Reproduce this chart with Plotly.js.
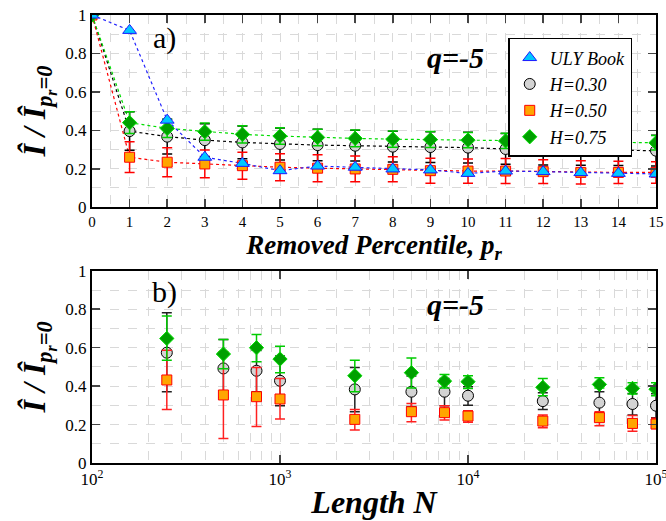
<!DOCTYPE html>
<html><head><meta charset="utf-8">
<script src="https://cdn.plot.ly/plotly-3.0.1.min.js"></script>
<style>body{margin:0;padding:0;background:#fff}#chart{width:666px;height:521px}
#chart text{font-family:'Liberation Serif','Times New Roman',serif !important;}</style>
</head><body>
<div id="chart"></div>
<script>
// ---- Panel a) : removed percentile ----
const pr = [0,1,2,3,4,5,6,7,8,9,10,11,12,13,14,15];
const ulyTop = [1.0,0.92,0.453,0.26,0.228,0.19,0.214,0.208,0.199,0.194,0.176,0.188,0.185,0.18,0.176,0.173];
const h30Top = [1.0,0.396,0.367,0.349,0.337,0.329,0.323,0.32,0.315,0.313,0.31,0.303,0.30,0.298,0.297,0.294];
const h30TopErr = [0,0.10,0.09,0.085,0.085,0.083,0.082,0.08,0.08,0.08,0.08,0.08,0.08,0.08,0.08,0.08];
const h50Top = [1.0,0.26,0.234,0.225,0.216,0.208,0.203,0.199,0.197,0.19,0.188,0.188,0.185,0.181,0.181,0.181];
const h50TopErr = [0,0.08,0.075,0.072,0.07,0.07,0.07,0.067,0.065,0.065,0.063,0.065,0.062,0.06,0.058,0.056];
const h75Top = [1.0,0.44,0.41,0.393,0.379,0.37,0.363,0.358,0.354,0.352,0.349,0.345,0.344,0.34,0.337,0.335];
const h75TopErr = [0,0.056,0.047,0.045,0.045,0.043,0.043,0.043,0.042,0.042,0.040,0.040,0.038,0.038,0.038,0.038];

// ---- Panel b) : length N ----
const lengthN = [250,500,750,1000,2500,5000,7500,10000,25000,50000,75000,100000];
const h30N   = [0.574,0.492,0.48,0.428,0.383,0.371,0.371,0.35,0.322,0.314,0.307,0.298];
const h30NHi = [0.782,0.643,0.587,0.557,0.497,0.453,0.44,0.397,0.365,0.371,0.362,0.36];
const h30NLo = [0.371,0.341,0.371,0.298,0.267,0.294,0.298,0.301,0.279,0.259,0.25,0.235];
const h50N   = [0.432,0.354,0.345,0.333,0.227,0.267,0.262,0.244,0.218,0.236,0.206,0.203];
const h50NHi = [0.587,0.579,0.497,0.44,0.279,0.31,0.298,0.272,0.25,0.267,0.247,0.233];
const h50NLo = [0.279,0.128,0.19,0.229,0.172,0.215,0.224,0.212,0.183,0.194,0.165,0.18];
const h75N   = [0.648,0.567,0.6,0.541,0.454,0.47,0.426,0.423,0.394,0.409,0.388,0.384];
const h75NHi = [0.765,0.643,0.669,0.608,0.535,0.546,0.461,0.454,0.44,0.443,0.418,0.418];
const h75NLo = [0.535,0.49,0.527,0.47,0.371,0.39,0.39,0.388,0.35,0.39,0.359,0.35];

const seriesNames = ['<i>ULY Book</i>','<i>H=0.30</i>','<i>H=0.50</i>','<i>H=0.75</i>'];
const yTicks = [0,0.2,0.4,0.6,0.8,1];
const yTickText = ['0','0.2','0.4','0.6','0.8','1'];
const xTicksN = [100,1000,10000,100000];
const xTickTextN = ['10<sup>2</sup>','10<sup>3</sup>','10<sup>4</sup>','10<sup>5</sup>'];

const SERIF = 'Liberation Serif';
const mk = {
  uly: {symbol:'triangle-up', size:12, color:'#00c8ff', line:{color:'#1a1aff', width:1}},
  h30: {symbol:'circle', size:11, color:'#d3d3d3', line:{color:'#000', width:1}},
  h50: {symbol:'square', size:10, color:'#ffa500', line:{color:'#ff0000', width:1}},
  h75: {symbol:'diamond', size:11, color:'#00a000', line:{color:'#00e000', width:1}}
};
const errStyle = (c) => ({type:'data', visible:true, color:c, thickness:1.5, width:5});
const diff = (a,b) => a.map((v,i)=>v-b[i]);
const dotLine = (y, c) => ({x:pr, y:y, type:'scatter', mode:'lines', showlegend:false, hoverinfo:'skip',
  line:{color:c, dash:'dot', width:1.2}, xaxis:'x', yaxis:'y'});

const traces = [
  dotLine(h30Top, '#000'), dotLine(h50Top, '#ff0000'), dotLine(h75Top, '#00dd00'), dotLine(ulyTop, '#2222ff'),
  {x:pr, y:h30Top, type:'scatter', mode:'markers', name:seriesNames[1], legendrank:2, marker:mk.h30,
   error_y:Object.assign({array:h30TopErr}, errStyle('#000')), xaxis:'x', yaxis:'y'},
  {x:pr, y:h50Top, type:'scatter', mode:'markers', name:seriesNames[2], legendrank:3, marker:mk.h50,
   error_y:Object.assign({array:h50TopErr}, errStyle('#ff0000')), xaxis:'x', yaxis:'y'},
  {x:pr, y:h75Top, type:'scatter', mode:'markers', name:seriesNames[3], legendrank:4, marker:mk.h75,
   error_y:Object.assign({array:h75TopErr}, errStyle('#00cc00')), xaxis:'x', yaxis:'y'},
  {x:pr, y:ulyTop, type:'scatter', mode:'markers', name:seriesNames[0], legendrank:1, marker:mk.uly, xaxis:'x', yaxis:'y'},

  {x:lengthN, y:h30N, type:'scatter', mode:'markers', showlegend:false, marker:mk.h30,
   error_y:Object.assign({symmetric:false, array:diff(h30NHi,h30N), arrayminus:diff(h30N,h30NLo)}, errStyle('#222')),
   xaxis:'x2', yaxis:'y2'},
  {x:lengthN, y:h50N, type:'scatter', mode:'markers', showlegend:false, marker:mk.h50,
   error_y:Object.assign({symmetric:false, array:diff(h50NHi,h50N), arrayminus:diff(h50N,h50NLo)}, errStyle('#ff2020')),
   xaxis:'x2', yaxis:'y2'},
  {x:lengthN, y:h75N, type:'scatter', mode:'markers', showlegend:false, marker:mk.h75,
   error_y:Object.assign({symmetric:false, array:diff(h75NHi,h75N), arrayminus:diff(h75N,h75NLo)}, errStyle('#00cc00')),
   xaxis:'x2', yaxis:'y2'}
];

const gridCol = '#d9d9d9';
const axBase = {
  showline:true, linecolor:'#000', linewidth:2, mirror:'allticks',
  ticks:'inside', ticklen:8, tickwidth:1.5, tickcolor:'#444',
  showgrid:true, gridcolor:gridCol, griddash:'dash', gridwidth:1,
  zeroline:false, ticklabeloverflow:'allow', tickfont:{family:SERIF, size:17, color:'#000'}
};
const yTitle = {text:'<b><i>Î / Î<sub>p<sub>r</sub>=0</sub></i></b>', font:{family:SERIF, size:32, color:'#000'}, standoff:10};

const layout = {
  width:666, height:521,
  margin:{l:92, r:10, t:15, b:58},
  paper_bgcolor:'#fff', plot_bgcolor:'#fff',
  font:{family:SERIF, color:'#000'},
  xaxis: Object.assign({}, axBase, {domain:[0,1], anchor:'y', range:[0,15], dtick:1, tick0:0,
    tickfont:{family:SERIF, size:15, color:'#000'},
    minor:{dtick:0.5, showgrid:true, gridcolor:gridCol, griddash:'dash', ticks:''},
    title:{text:'<b><i>Removed Percentile, p<sub>r</sub></i></b>', font:{family:SERIF, size:27, color:'#000'}, standoff:0}}),
  yaxis: Object.assign({}, axBase, {domain:[0.571,1], anchor:'x', range:[0,1], tickvals:yTicks, ticktext:yTickText,
    minor:{dtick:0.1, showgrid:true, gridcolor:gridCol, griddash:'dash', ticks:''}, title:yTitle}),
  xaxis2: Object.assign({}, axBase, {domain:[0,1], anchor:'y2', type:'log', range:[2,5], tickvals:xTicksN, ticktext:xTickTextN,
    tickfont:{family:SERIF, size:17, color:'#000'},
    minor:{dtick:'D1', showgrid:true, gridcolor:gridCol, griddash:'dash', ticks:''},
    title:{text:'<b><i>Length N</i></b>', font:{family:SERIF, size:32, color:'#000'}, standoff:2}}),
  yaxis2: Object.assign({}, axBase, {domain:[0,0.429], anchor:'x2', range:[0,1], tickvals:yTicks, ticktext:yTickText,
    minor:{dtick:0.1, showgrid:true, gridcolor:gridCol, griddash:'dash', ticks:''}, title:yTitle}),
  showlegend:true,
  legend:{x:0.738, y:0.949, xanchor:'left', yanchor:'top', bgcolor:'#fff', bordercolor:'#000', borderwidth:1.5,
    font:{family:SERIF, size:18, color:'#000'}, tracegroupgap:0, itemwidth:30},
  annotations:[
    {xref:'paper', yref:'paper', x:0.129, y:0.949, xanchor:'center', yanchor:'middle', text:'a)', showarrow:false, font:{family:SERIF, size:30, color:'#000'}},
    {xref:'paper', yref:'paper', x:0.644, y:0.906, xanchor:'center', yanchor:'middle', text:'<b><i>q=-5</i></b>', showarrow:false, font:{family:SERIF, size:30, color:'#000'}},
    {xref:'paper', yref:'paper', x:0.129, y:0.382, xanchor:'center', yanchor:'middle', text:'b)', showarrow:false, font:{family:SERIF, size:30, color:'#000'}},
    {xref:'paper', yref:'paper', x:0.644, y:0.353, xanchor:'center', yanchor:'middle', text:'<b><i>q=-5</i></b>', showarrow:false, font:{family:SERIF, size:30, color:'#000'}}
  ]
};

Plotly.newPlot('chart', traces, layout, {displayModeBar:false, staticPlot:true});
</script></body></html>
